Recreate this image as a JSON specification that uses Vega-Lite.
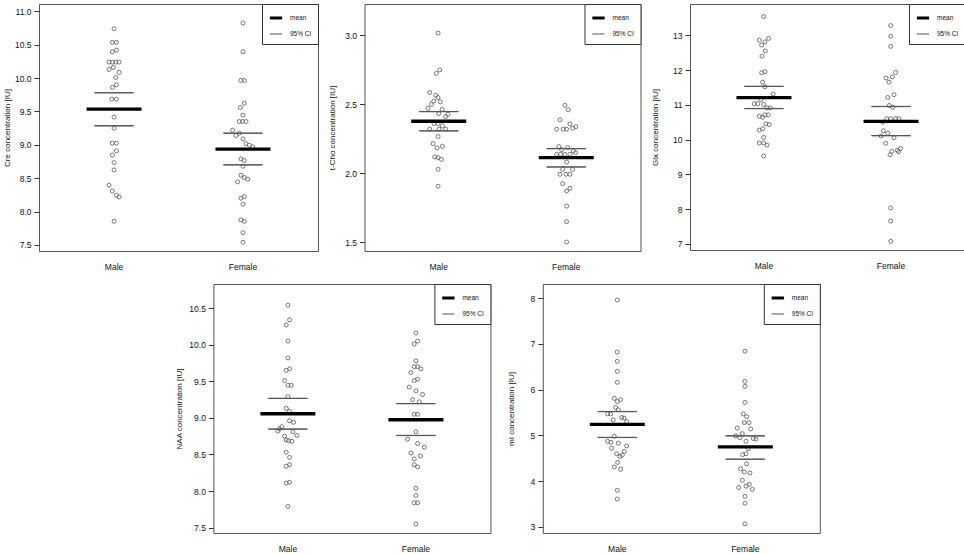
{
"$schema": "https://vega.github.io/schema/vega-lite/v6.json",
"padding": {"left": 2, "top": 3, "right": 0, "bottom": 0},
"datasets": {
"points": [
{"m":"Cre","sex":"Male","value":10.74,"jit":0},{"m":"Cre","sex":"Male","value":10.535,"jit":-0.5},{"m":"Cre","sex":"Male","value":10.535,"jit":0.7},{"m":"Cre","sex":"Male","value":10.42,"jit":0.7},{"m":"Cre","sex":"Male","value":10.395,"jit":-0.5},{"m":"Cre","sex":"Male","value":10.24,"jit":-1.5},{"m":"Cre","sex":"Male","value":10.24,"jit":-0.5},{"m":"Cre","sex":"Male","value":10.24,"jit":0.5},{"m":"Cre","sex":"Male","value":10.24,"jit":1.5},{"m":"Cre","sex":"Male","value":10.16,"jit":-0.2},{"m":"Cre","sex":"Male","value":10.13,"jit":-1.5},{"m":"Cre","sex":"Male","value":10.085,"jit":1.5},{"m":"Cre","sex":"Male","value":10.01,"jit":0.5},{"m":"Cre","sex":"Male","value":9.9,"jit":0.7},{"m":"Cre","sex":"Male","value":9.86,"jit":-0.5},{"m":"Cre","sex":"Male","value":9.685,"jit":-0.7},{"m":"Cre","sex":"Male","value":9.685,"jit":0.7},{"m":"Cre","sex":"Male","value":9.415,"jit":0},{"m":"Cre","sex":"Male","value":9.25,"jit":0},{"m":"Cre","sex":"Male","value":9.025,"jit":-0.5},{"m":"Cre","sex":"Male","value":9.025,"jit":0.7},{"m":"Cre","sex":"Male","value":8.91,"jit":0.7},{"m":"Cre","sex":"Male","value":8.845,"jit":-0.5},{"m":"Cre","sex":"Male","value":8.735,"jit":0},{"m":"Cre","sex":"Male","value":8.625,"jit":0},{"m":"Cre","sex":"Male","value":8.395,"jit":-1.5},{"m":"Cre","sex":"Male","value":8.31,"jit":-0.5},{"m":"Cre","sex":"Male","value":8.245,"jit":0.7},{"m":"Cre","sex":"Male","value":8.22,"jit":1.5},{"m":"Cre","sex":"Male","value":7.855,"jit":0},
{"m":"Cre","sex":"Female","value":10.825,"jit":0},{"m":"Cre","sex":"Female","value":10.395,"jit":0},{"m":"Cre","sex":"Female","value":9.965,"jit":-0.6},{"m":"Cre","sex":"Female","value":9.965,"jit":0.4},{"m":"Cre","sex":"Female","value":9.625,"jit":0.4},{"m":"Cre","sex":"Female","value":9.56,"jit":-0.8},{"m":"Cre","sex":"Female","value":9.445,"jit":0},{"m":"Cre","sex":"Female","value":9.35,"jit":-1.1},{"m":"Cre","sex":"Female","value":9.35,"jit":-0.1},{"m":"Cre","sex":"Female","value":9.35,"jit":0.9},{"m":"Cre","sex":"Female","value":9.22,"jit":-3.1},{"m":"Cre","sex":"Female","value":9.175,"jit":-1.1},{"m":"Cre","sex":"Female","value":9.14,"jit":-2.1},{"m":"Cre","sex":"Female","value":9.09,"jit":0},{"m":"Cre","sex":"Female","value":9.02,"jit":0.9},{"m":"Cre","sex":"Female","value":8.995,"jit":1.9},{"m":"Cre","sex":"Female","value":8.97,"jit":2.9},{"m":"Cre","sex":"Female","value":8.79,"jit":-0.6},{"m":"Cre","sex":"Female","value":8.765,"jit":0.4},{"m":"Cre","sex":"Female","value":8.68,"jit":0},{"m":"Cre","sex":"Female","value":8.545,"jit":-0.6},{"m":"Cre","sex":"Female","value":8.51,"jit":0.4},{"m":"Cre","sex":"Female","value":8.485,"jit":1.4},{"m":"Cre","sex":"Female","value":8.445,"jit":-1.6},{"m":"Cre","sex":"Female","value":8.225,"jit":0.4},{"m":"Cre","sex":"Female","value":8.2,"jit":-0.6},{"m":"Cre","sex":"Female","value":8.11,"jit":0},{"m":"Cre","sex":"Female","value":7.875,"jit":-0.6},{"m":"Cre","sex":"Female","value":7.855,"jit":0.4},{"m":"Cre","sex":"Female","value":7.685,"jit":0},{"m":"Cre","sex":"Female","value":7.54,"jit":0},
{"m":"tCho","sex":"Male","value":3.017,"jit":-0.2},{"m":"tCho","sex":"Male","value":2.75,"jit":0.3},{"m":"tCho","sex":"Male","value":2.724,"jit":-0.7},{"m":"tCho","sex":"Male","value":2.586,"jit":-2.7},{"m":"tCho","sex":"Male","value":2.566,"jit":-0.9},{"m":"tCho","sex":"Male","value":2.549,"jit":-0.2},{"m":"tCho","sex":"Male","value":2.523,"jit":-1.5},{"m":"tCho","sex":"Male","value":2.518,"jit":0.5},{"m":"tCho","sex":"Male","value":2.5,"jit":-2.2},{"m":"tCho","sex":"Male","value":2.471,"jit":-3.2},{"m":"tCho","sex":"Male","value":2.462,"jit":1.0},{"m":"tCho","sex":"Male","value":2.433,"jit":0},{"m":"tCho","sex":"Male","value":2.428,"jit":2.8},{"m":"tCho","sex":"Male","value":2.411,"jit":2.1},{"m":"tCho","sex":"Male","value":2.36,"jit":-1.4},{"m":"tCho","sex":"Male","value":2.36,"jit":-0.2},{"m":"tCho","sex":"Male","value":2.343,"jit":1.1},{"m":"tCho","sex":"Male","value":2.32,"jit":-2.7},{"m":"tCho","sex":"Male","value":2.32,"jit":0.1},{"m":"tCho","sex":"Male","value":2.32,"jit":2.1},{"m":"tCho","sex":"Male","value":2.266,"jit":-0.2},{"m":"tCho","sex":"Male","value":2.215,"jit":-1.7},{"m":"tCho","sex":"Male","value":2.195,"jit":1.1},{"m":"tCho","sex":"Male","value":2.183,"jit":-0.5},{"m":"tCho","sex":"Male","value":2.118,"jit":-1.2},{"m":"tCho","sex":"Male","value":2.113,"jit":-0.2},{"m":"tCho","sex":"Male","value":2.1,"jit":0.8},{"m":"tCho","sex":"Male","value":2.028,"jit":-0.2},{"m":"tCho","sex":"Male","value":1.905,"jit":-0.2},
{"m":"tCho","sex":"Female","value":2.493,"jit":-0.4},{"m":"tCho","sex":"Female","value":2.46,"jit":0.6},{"m":"tCho","sex":"Female","value":2.387,"jit":-1.9},{"m":"tCho","sex":"Female","value":2.358,"jit":1.1},{"m":"tCho","sex":"Female","value":2.338,"jit":2.9},{"m":"tCho","sex":"Female","value":2.326,"jit":1.9},{"m":"tCho","sex":"Female","value":2.319,"jit":-2.9},{"m":"tCho","sex":"Female","value":2.319,"jit":-0.9},{"m":"tCho","sex":"Female","value":2.319,"jit":0.1},{"m":"tCho","sex":"Female","value":2.193,"jit":-2.2},{"m":"tCho","sex":"Female","value":2.186,"jit":0.4},{"m":"tCho","sex":"Female","value":2.171,"jit":-1.4},{"m":"tCho","sex":"Female","value":2.161,"jit":2.1},{"m":"tCho","sex":"Female","value":2.149,"jit":2.8},{"m":"tCho","sex":"Female","value":2.137,"jit":-2.9},{"m":"tCho","sex":"Female","value":2.137,"jit":-1.7},{"m":"tCho","sex":"Female","value":2.137,"jit":-0.4},{"m":"tCho","sex":"Female","value":2.137,"jit":1.1},{"m":"tCho","sex":"Female","value":2.081,"jit":0.1},{"m":"tCho","sex":"Female","value":2.028,"jit":-1.1},{"m":"tCho","sex":"Female","value":2.028,"jit":1.9},{"m":"tCho","sex":"Female","value":1.992,"jit":-1.9},{"m":"tCho","sex":"Female","value":1.992,"jit":-0.1},{"m":"tCho","sex":"Female","value":1.992,"jit":1.1},{"m":"tCho","sex":"Female","value":1.924,"jit":-1.1},{"m":"tCho","sex":"Female","value":1.89,"jit":1.1},{"m":"tCho","sex":"Female","value":1.871,"jit":0.1},{"m":"tCho","sex":"Female","value":1.761,"jit":0.1},{"m":"tCho","sex":"Female","value":1.648,"jit":0.1},{"m":"tCho","sex":"Female","value":1.5,"jit":0.1},
{"m":"Glx","sex":"Male","value":13.54,"jit":-0.1},{"m":"Glx","sex":"Male","value":12.91,"jit":1.4},{"m":"Glx","sex":"Male","value":12.86,"jit":-1.4},{"m":"Glx","sex":"Male","value":12.81,"jit":0.3},{"m":"Glx","sex":"Male","value":12.72,"jit":-0.7},{"m":"Glx","sex":"Male","value":12.55,"jit":0.4},{"m":"Glx","sex":"Male","value":12.4,"jit":-0.6},{"m":"Glx","sex":"Male","value":11.95,"jit":0.3},{"m":"Glx","sex":"Male","value":11.92,"jit":-0.7},{"m":"Glx","sex":"Male","value":11.65,"jit":-0.4},{"m":"Glx","sex":"Male","value":11.52,"jit":0.3},{"m":"Glx","sex":"Male","value":11.31,"jit":2.8},{"m":"Glx","sex":"Male","value":11.15,"jit":-0.9},{"m":"Glx","sex":"Male","value":11.03,"jit":-2.9},{"m":"Glx","sex":"Male","value":11.03,"jit":-1.9},{"m":"Glx","sex":"Male","value":11.01,"jit":-0.1},{"m":"Glx","sex":"Male","value":10.91,"jit":0.9},{"m":"Glx","sex":"Male","value":10.91,"jit":1.9},{"m":"Glx","sex":"Male","value":10.71,"jit":0.3},{"m":"Glx","sex":"Male","value":10.67,"jit":-1.4},{"m":"Glx","sex":"Male","value":10.64,"jit":-0.4},{"m":"Glx","sex":"Male","value":10.71,"jit":1.3},{"m":"Glx","sex":"Male","value":10.45,"jit":0.6},{"m":"Glx","sex":"Male","value":10.43,"jit":1.6},{"m":"Glx","sex":"Male","value":10.27,"jit":-1.4},{"m":"Glx","sex":"Male","value":10.31,"jit":-0.4},{"m":"Glx","sex":"Male","value":10.06,"jit":-0.1},{"m":"Glx","sex":"Male","value":9.9,"jit":-1.4},{"m":"Glx","sex":"Male","value":9.9,"jit":-0.1},{"m":"Glx","sex":"Male","value":9.84,"jit":0.9},{"m":"Glx","sex":"Male","value":9.53,"jit":-0.1},
{"m":"Glx","sex":"Female","value":13.28,"jit":-0.1},{"m":"Glx","sex":"Female","value":12.97,"jit":-0.1},{"m":"Glx","sex":"Female","value":12.68,"jit":-0.1},{"m":"Glx","sex":"Female","value":11.93,"jit":1.4},{"m":"Glx","sex":"Female","value":11.8,"jit":0.4},{"m":"Glx","sex":"Female","value":11.77,"jit":-1.5},{"m":"Glx","sex":"Female","value":11.65,"jit":-0.6},{"m":"Glx","sex":"Female","value":11.29,"jit":0.9},{"m":"Glx","sex":"Female","value":11.21,"jit":-1.0},{"m":"Glx","sex":"Female","value":10.98,"jit":-0.5},{"m":"Glx","sex":"Female","value":10.93,"jit":0.5},{"m":"Glx","sex":"Female","value":10.6,"jit":-1.3},{"m":"Glx","sex":"Female","value":10.6,"jit":-0.1},{"m":"Glx","sex":"Female","value":10.6,"jit":1.4},{"m":"Glx","sex":"Female","value":10.6,"jit":2.4},{"m":"Glx","sex":"Female","value":10.5,"jit":-2.5},{"m":"Glx","sex":"Female","value":10.25,"jit":-2.3},{"m":"Glx","sex":"Female","value":10.18,"jit":-1.0},{"m":"Glx","sex":"Female","value":10.1,"jit":-3.0},{"m":"Glx","sex":"Female","value":10.05,"jit":0.9},{"m":"Glx","sex":"Female","value":9.89,"jit":-1.6},{"m":"Glx","sex":"Female","value":9.74,"jit":2.9},{"m":"Glx","sex":"Female","value":9.69,"jit":1.9},{"m":"Glx","sex":"Female","value":9.66,"jit":0.2},{"m":"Glx","sex":"Female","value":9.65,"jit":2.3},{"m":"Glx","sex":"Female","value":9.56,"jit":-0.3},{"m":"Glx","sex":"Female","value":8.03,"jit":-0.1},{"m":"Glx","sex":"Female","value":7.65,"jit":-0.1},{"m":"Glx","sex":"Female","value":7.07,"jit":-0.1},
{"m":"NAA","sex":"Male","value":10.54,"jit":0},{"m":"NAA","sex":"Male","value":10.34,"jit":0.5},{"m":"NAA","sex":"Male","value":10.27,"jit":-0.5},{"m":"NAA","sex":"Male","value":10.05,"jit":0},{"m":"NAA","sex":"Male","value":9.82,"jit":0},{"m":"NAA","sex":"Male","value":9.67,"jit":0.5},{"m":"NAA","sex":"Male","value":9.65,"jit":-0.5},{"m":"NAA","sex":"Male","value":9.51,"jit":-1.0},{"m":"NAA","sex":"Male","value":9.445,"jit":0},{"m":"NAA","sex":"Male","value":9.445,"jit":1.0},{"m":"NAA","sex":"Male","value":9.29,"jit":0},{"m":"NAA","sex":"Male","value":9.13,"jit":-0.5},{"m":"NAA","sex":"Male","value":9.09,"jit":0.5},{"m":"NAA","sex":"Male","value":8.96,"jit":0.5},{"m":"NAA","sex":"Male","value":8.94,"jit":1.7},{"m":"NAA","sex":"Male","value":8.88,"jit":-1.8},{"m":"NAA","sex":"Male","value":8.85,"jit":-2.5},{"m":"NAA","sex":"Male","value":8.82,"jit":-3.0},{"m":"NAA","sex":"Male","value":8.81,"jit":1.5},{"m":"NAA","sex":"Male","value":8.76,"jit":2.7},{"m":"NAA","sex":"Male","value":8.75,"jit":-1.0},{"m":"NAA","sex":"Male","value":8.7,"jit":-0.5},{"m":"NAA","sex":"Male","value":8.69,"jit":0.2},{"m":"NAA","sex":"Male","value":8.68,"jit":1.2},{"m":"NAA","sex":"Male","value":8.53,"jit":-0.5},{"m":"NAA","sex":"Male","value":8.46,"jit":0.5},{"m":"NAA","sex":"Male","value":8.36,"jit":0.5},{"m":"NAA","sex":"Male","value":8.34,"jit":-0.5},{"m":"NAA","sex":"Male","value":8.12,"jit":0.5},{"m":"NAA","sex":"Male","value":8.11,"jit":-0.5},{"m":"NAA","sex":"Male","value":7.79,"jit":0},
{"m":"NAA","sex":"Female","value":10.16,"jit":0},{"m":"NAA","sex":"Female","value":10.05,"jit":0.5},{"m":"NAA","sex":"Female","value":10.01,"jit":-0.5},{"m":"NAA","sex":"Female","value":9.78,"jit":0},{"m":"NAA","sex":"Female","value":9.7,"jit":-0.5},{"m":"NAA","sex":"Female","value":9.7,"jit":0.5},{"m":"NAA","sex":"Female","value":9.67,"jit":1.5},{"m":"NAA","sex":"Female","value":9.62,"jit":-1.5},{"m":"NAA","sex":"Female","value":9.53,"jit":0.5},{"m":"NAA","sex":"Female","value":9.51,"jit":-0.5},{"m":"NAA","sex":"Female","value":9.42,"jit":-2.0},{"m":"NAA","sex":"Female","value":9.37,"jit":0},{"m":"NAA","sex":"Female","value":9.32,"jit":2.0},{"m":"NAA","sex":"Female","value":9.25,"jit":-1.0},{"m":"NAA","sex":"Female","value":9.22,"jit":1.0},{"m":"NAA","sex":"Female","value":9.05,"jit":-0.5},{"m":"NAA","sex":"Female","value":9.05,"jit":0.5},{"m":"NAA","sex":"Female","value":8.81,"jit":0},{"m":"NAA","sex":"Female","value":8.71,"jit":-2.5},{"m":"NAA","sex":"Female","value":8.65,"jit":0.5},{"m":"NAA","sex":"Female","value":8.6,"jit":2.5},{"m":"NAA","sex":"Female","value":8.52,"jit":-1.5},{"m":"NAA","sex":"Female","value":8.48,"jit":1.4},{"m":"NAA","sex":"Female","value":8.44,"jit":-0.5},{"m":"NAA","sex":"Female","value":8.36,"jit":-0.5},{"m":"NAA","sex":"Female","value":8.33,"jit":0.5},{"m":"NAA","sex":"Female","value":8.04,"jit":0},{"m":"NAA","sex":"Female","value":7.94,"jit":0},{"m":"NAA","sex":"Female","value":7.84,"jit":-0.5},{"m":"NAA","sex":"Female","value":7.84,"jit":0.5},{"m":"NAA","sex":"Female","value":7.55,"jit":0},
{"m":"mI","sex":"Male","value":7.96,"jit":0},{"m":"mI","sex":"Male","value":6.82,"jit":0},{"m":"mI","sex":"Male","value":6.62,"jit":0},{"m":"mI","sex":"Male","value":6.4,"jit":0},{"m":"mI","sex":"Male","value":6.16,"jit":0},{"m":"mI","sex":"Male","value":5.81,"jit":-0.9},{"m":"mI","sex":"Male","value":5.78,"jit":1.0},{"m":"mI","sex":"Male","value":5.74,"jit":0},{"m":"mI","sex":"Male","value":5.61,"jit":-0.5},{"m":"mI","sex":"Male","value":5.56,"jit":0.3},{"m":"mI","sex":"Male","value":5.47,"jit":-2.9},{"m":"mI","sex":"Male","value":5.47,"jit":-2.0},{"m":"mI","sex":"Male","value":5.39,"jit":1.3},{"m":"mI","sex":"Male","value":5.38,"jit":2.0},{"m":"mI","sex":"Male","value":5.34,"jit":-1.2},{"m":"mI","sex":"Male","value":5.3,"jit":2.8},{"m":"mI","sex":"Male","value":4.98,"jit":-0.9},{"m":"mI","sex":"Male","value":4.87,"jit":-2.9},{"m":"mI","sex":"Male","value":4.85,"jit":-1.9},{"m":"mI","sex":"Male","value":4.83,"jit":0.3},{"m":"mI","sex":"Male","value":4.77,"jit":2.8},{"m":"mI","sex":"Male","value":4.72,"jit":-1.7},{"m":"mI","sex":"Male","value":4.65,"jit":2.1},{"m":"mI","sex":"Male","value":4.6,"jit":-0.2},{"m":"mI","sex":"Male","value":4.57,"jit":1.5},{"m":"mI","sex":"Male","value":4.54,"jit":0.8},{"m":"mI","sex":"Male","value":4.41,"jit":0.1},{"m":"mI","sex":"Male","value":4.31,"jit":-0.9},{"m":"mI","sex":"Male","value":4.26,"jit":1.0},{"m":"mI","sex":"Male","value":3.8,"jit":0},{"m":"mI","sex":"Male","value":3.61,"jit":0},
{"m":"mI","sex":"Female","value":6.84,"jit":-0.1},{"m":"mI","sex":"Female","value":6.18,"jit":-0.1},{"m":"mI","sex":"Female","value":6.07,"jit":-0.1},{"m":"mI","sex":"Female","value":5.72,"jit":-0.1},{"m":"mI","sex":"Female","value":5.47,"jit":-0.6},{"m":"mI","sex":"Female","value":5.41,"jit":0.4},{"m":"mI","sex":"Female","value":5.28,"jit":-0.3},{"m":"mI","sex":"Female","value":5.28,"jit":1.1},{"m":"mI","sex":"Female","value":5.16,"jit":-2.4},{"m":"mI","sex":"Female","value":5.14,"jit":1.6},{"m":"mI","sex":"Female","value":5.04,"jit":-0.9},{"m":"mI","sex":"Female","value":4.99,"jit":-2.9},{"m":"mI","sex":"Female","value":4.95,"jit":-1.6},{"m":"mI","sex":"Female","value":4.93,"jit":2.4},{"m":"mI","sex":"Female","value":4.92,"jit":3.2},{"m":"mI","sex":"Female","value":4.87,"jit":0.2},{"m":"mI","sex":"Female","value":4.71,"jit":0.9},{"m":"mI","sex":"Female","value":4.6,"jit":0.2},{"m":"mI","sex":"Female","value":4.58,"jit":-0.8},{"m":"mI","sex":"Female","value":4.38,"jit":0.4},{"m":"mI","sex":"Female","value":4.27,"jit":-1.4},{"m":"mI","sex":"Female","value":4.2,"jit":-0.3},{"m":"mI","sex":"Female","value":4.18,"jit":1.4},{"m":"mI","sex":"Female","value":4.02,"jit":-0.9},{"m":"mI","sex":"Female","value":3.93,"jit":1.2},{"m":"mI","sex":"Female","value":3.89,"jit":0.2},{"m":"mI","sex":"Female","value":3.86,"jit":-2.0},{"m":"mI","sex":"Female","value":3.82,"jit":2.1},{"m":"mI","sex":"Female","value":3.67,"jit":-0.1},{"m":"mI","sex":"Female","value":3.52,"jit":-0.1},{"m":"mI","sex":"Female","value":3.07,"jit":-0.1}
],
"stats": [
{"m":"Cre","sex":"Male","kind":"mean","value":9.535},{"m":"Cre","sex":"Male","kind":"95% CI","value":9.78},{"m":"Cre","sex":"Male","kind":"95% CI","value":9.285},
{"m":"Cre","sex":"Female","kind":"mean","value":8.935},{"m":"Cre","sex":"Female","kind":"95% CI","value":9.175},{"m":"Cre","sex":"Female","kind":"95% CI","value":8.7},
{"m":"tCho","sex":"Male","kind":"mean","value":2.377},{"m":"tCho","sex":"Male","kind":"95% CI","value":2.447},{"m":"tCho","sex":"Male","kind":"95% CI","value":2.307},
{"m":"tCho","sex":"Female","kind":"mean","value":2.113},{"m":"tCho","sex":"Female","kind":"95% CI","value":2.178},{"m":"tCho","sex":"Female","kind":"95% CI","value":2.045},
{"m":"Glx","sex":"Male","kind":"mean","value":11.205},{"m":"Glx","sex":"Male","kind":"95% CI","value":11.53},{"m":"Glx","sex":"Male","kind":"95% CI","value":10.89},
{"m":"Glx","sex":"Female","kind":"mean","value":10.52},{"m":"Glx","sex":"Female","kind":"95% CI","value":10.95},{"m":"Glx","sex":"Female","kind":"95% CI","value":10.11},
{"m":"NAA","sex":"Male","kind":"mean","value":9.057},{"m":"NAA","sex":"Male","kind":"95% CI","value":9.267},{"m":"NAA","sex":"Male","kind":"95% CI","value":8.847},
{"m":"NAA","sex":"Female","kind":"mean","value":8.975},{"m":"NAA","sex":"Female","kind":"95% CI","value":9.195},{"m":"NAA","sex":"Female","kind":"95% CI","value":8.76},
{"m":"mI","sex":"Male","kind":"mean","value":5.24},{"m":"mI","sex":"Male","kind":"95% CI","value":5.52},{"m":"mI","sex":"Male","kind":"95% CI","value":4.955},
{"m":"mI","sex":"Female","kind":"mean","value":4.75},{"m":"mI","sex":"Female","kind":"95% CI","value":4.99},{"m":"mI","sex":"Female","kind":"95% CI","value":4.48}
]
},
"vconcat": [
{"hconcat": [
{"width": 279, "height": 247, "layer": [
{"data":{"name":"points"},"transform":[{"filter":"datum.m==='Cre'"}],"mark":{"type":"point","shape":"circle","filled":false,"size":16,"stroke":"#555","strokeWidth":0.8,"opacity":1},
"encoding":{"x":{"field":"sex","type":"nominal","sort":["Male","Female"],"scale":{"paddingInner":0,"paddingOuter":0.082},"axis":{"title":null,"ticks":false,"domain":false,"labelAngle":0,"labelPadding":11}},
"xOffset":{"field":"jit","type":"quantitative","scale":{"domain":[-19.2,19.2],"nice":false,"zero":false}},
"y":{"field":"value","type":"quantitative","scale":{"domain":[7.41,11.11],"nice":false,"zero":false},"axis":{"title":"Cre concentration [IU]","values":[7.5,8,8.5,9,9.5,10,10.5,11],"tickCount":12,"format":".1f","titlePadding":8}}}},
{"data":{"name":"stats"},"transform":[{"filter":"datum.m==='Cre' && datum.kind==='mean'"}],"mark":{"type":"tick","filled":false,"thickness":0.3,"size":52,"opacity":1},
"encoding":{"x":{"field":"sex","type":"nominal","sort":["Male","Female"]},"y":{"field":"value","type":"quantitative"},
"stroke":{"field":"kind","type":"nominal","scale":{"domain":["mean","95% CI"],"range":["#000000","#555555"]},"legend":{"title":null}},
"strokeWidth":{"field":"kind","type":"nominal","scale":{"domain":["mean","95% CI"],"range":[3,1]},"legend":{"title":null}}}},
{"data":{"name":"stats"},"transform":[{"filter":"datum.m==='Cre' && datum.kind==='95% CI'"}],"mark":{"type":"tick","filled":false,"thickness":0.3,"size":39,"opacity":1},
"encoding":{"x":{"field":"sex","type":"nominal","sort":["Male","Female"]},"y":{"field":"value","type":"quantitative"},
"stroke":{"field":"kind","type":"nominal","scale":{"domain":["mean","95% CI"],"range":["#000000","#555555"]},"legend":{"title":null}},
"strokeWidth":{"field":"kind","type":"nominal","scale":{"domain":["mean","95% CI"],"range":[3,1]},"legend":{"title":null}}}}
]},
{"width": 276, "height": 247, "layer": [
{"data":{"name":"points"},"transform":[{"filter":"datum.m==='tCho'"}],"mark":{"type":"point","shape":"circle","filled":false,"size":16,"stroke":"#555","strokeWidth":0.8,"opacity":1},
"encoding":{"x":{"field":"sex","type":"nominal","sort":["Male","Female"],"scale":{"paddingInner":0,"paddingOuter":0.082},"axis":{"title":null,"ticks":false,"domain":false,"labelAngle":0,"labelPadding":11}},
"xOffset":{"field":"jit","type":"quantitative","scale":{"domain":[-19.2,19.2],"nice":false,"zero":false}},
"y":{"field":"value","type":"quantitative","scale":{"domain":[1.435,3.228],"nice":false,"zero":false},"axis":{"title":"t-Cho concentration [IU]","values":[1.5,2,2.5,3],"tickCount":12,"format":".1f","titlePadding":7.7}}}},
{"data":{"name":"stats"},"transform":[{"filter":"datum.m==='tCho' && datum.kind==='mean'"}],"mark":{"type":"tick","filled":false,"thickness":0.3,"size":52,"opacity":1},
"encoding":{"x":{"field":"sex","type":"nominal","sort":["Male","Female"]},"y":{"field":"value","type":"quantitative"},
"stroke":{"field":"kind","type":"nominal","scale":{"domain":["mean","95% CI"],"range":["#000000","#555555"]},"legend":{"title":null}},
"strokeWidth":{"field":"kind","type":"nominal","scale":{"domain":["mean","95% CI"],"range":[3,1]},"legend":{"title":null}}}},
{"data":{"name":"stats"},"transform":[{"filter":"datum.m==='tCho' && datum.kind==='95% CI'"}],"mark":{"type":"tick","filled":false,"thickness":0.3,"size":39,"opacity":1},
"encoding":{"x":{"field":"sex","type":"nominal","sort":["Male","Female"]},"y":{"field":"value","type":"quantitative"},
"stroke":{"field":"kind","type":"nominal","scale":{"domain":["mean","95% CI"],"range":["#000000","#555555"]},"legend":{"title":null}},
"strokeWidth":{"field":"kind","type":"nominal","scale":{"domain":["mean","95% CI"],"range":[3,1]},"legend":{"title":null}}}}
]},
{"width": 275, "height": 246, "layer": [
{"data":{"name":"points"},"transform":[{"filter":"datum.m==='Glx'"}],"mark":{"type":"point","shape":"circle","filled":false,"size":16,"stroke":"#555","strokeWidth":0.8,"opacity":1},
"encoding":{"x":{"field":"sex","type":"nominal","sort":["Male","Female"],"scale":{"paddingInner":0,"paddingOuter":0.082},"axis":{"title":null,"ticks":false,"domain":false,"labelAngle":0,"labelPadding":11}},
"xOffset":{"field":"jit","type":"quantitative","scale":{"domain":[-19.2,19.2],"nice":false,"zero":false}},
"y":{"field":"value","type":"quantitative","scale":{"domain":[6.82,13.9],"nice":false,"zero":false},"axis":{"title":"Glx concentration [IU]","values":[7,8,9,10,11,12,13],"tickCount":12,"format":"d","titlePadding":11}}}},
{"data":{"name":"stats"},"transform":[{"filter":"datum.m==='Glx' && datum.kind==='mean'"}],"mark":{"type":"tick","filled":false,"thickness":0.3,"size":52,"opacity":1},
"encoding":{"x":{"field":"sex","type":"nominal","sort":["Male","Female"]},"y":{"field":"value","type":"quantitative"},
"stroke":{"field":"kind","type":"nominal","scale":{"domain":["mean","95% CI"],"range":["#000000","#555555"]},"legend":{"title":null}},
"strokeWidth":{"field":"kind","type":"nominal","scale":{"domain":["mean","95% CI"],"range":[3,1]},"legend":{"title":null}}}},
{"data":{"name":"stats"},"transform":[{"filter":"datum.m==='Glx' && datum.kind==='95% CI'"}],"mark":{"type":"tick","filled":false,"thickness":0.3,"size":39,"opacity":1},
"encoding":{"x":{"field":"sex","type":"nominal","sort":["Male","Female"]},"y":{"field":"value","type":"quantitative"},
"stroke":{"field":"kind","type":"nominal","scale":{"domain":["mean","95% CI"],"range":["#000000","#555555"]},"legend":{"title":null}},
"strokeWidth":{"field":"kind","type":"nominal","scale":{"domain":["mean","95% CI"],"range":[3,1]},"legend":{"title":null}}}}
]}
], "spacing": 8.5, "resolve": {"scale": {"x":"independent","y":"independent","xOffset":"independent","stroke":"independent","strokeWidth":"independent"}}},
{"hconcat": [
{"width": 120, "height": 10, "view": {"stroke": null}, "data": {"values": []}, "mark": {"type":"point","opacity":0}, "encoding": {}},
{"width": 277, "height": 249, "layer": [
{"data":{"name":"points"},"transform":[{"filter":"datum.m==='NAA'"}],"mark":{"type":"point","shape":"circle","filled":false,"size":16,"stroke":"#555","strokeWidth":0.8,"opacity":1},
"encoding":{"x":{"field":"sex","type":"nominal","sort":["Male","Female"],"scale":{"paddingInner":0,"paddingOuter":0.082},"axis":{"title":null,"ticks":false,"domain":false,"labelAngle":0,"labelPadding":11}},
"xOffset":{"field":"jit","type":"quantitative","scale":{"domain":[-19.2,19.2],"nice":false,"zero":false}},
"y":{"field":"value","type":"quantitative","scale":{"domain":[7.427,10.83],"nice":false,"zero":false},"axis":{"title":"NAA concentration [IU]","values":[7.5,8,8.5,9,9.5,10,10.5],"tickCount":12,"format":".1f","titlePadding":10.3}}}},
{"data":{"name":"stats"},"transform":[{"filter":"datum.m==='NAA' && datum.kind==='mean'"}],"mark":{"type":"tick","filled":false,"thickness":0.3,"size":52,"opacity":1},
"encoding":{"x":{"field":"sex","type":"nominal","sort":["Male","Female"]},"y":{"field":"value","type":"quantitative"},
"stroke":{"field":"kind","type":"nominal","scale":{"domain":["mean","95% CI"],"range":["#000000","#555555"]},"legend":{"title":null}},
"strokeWidth":{"field":"kind","type":"nominal","scale":{"domain":["mean","95% CI"],"range":[3,1]},"legend":{"title":null}}}},
{"data":{"name":"stats"},"transform":[{"filter":"datum.m==='NAA' && datum.kind==='95% CI'"}],"mark":{"type":"tick","filled":false,"thickness":0.3,"size":39,"opacity":1},
"encoding":{"x":{"field":"sex","type":"nominal","sort":["Male","Female"]},"y":{"field":"value","type":"quantitative"},
"stroke":{"field":"kind","type":"nominal","scale":{"domain":["mean","95% CI"],"range":["#000000","#555555"]},"legend":{"title":null}},
"strokeWidth":{"field":"kind","type":"nominal","scale":{"domain":["mean","95% CI"],"range":[3,1]},"legend":{"title":null}}}}
]},
{"width": 277, "height": 249, "layer": [
{"data":{"name":"points"},"transform":[{"filter":"datum.m==='mI'"}],"mark":{"type":"point","shape":"circle","filled":false,"size":16,"stroke":"#555","strokeWidth":0.8,"opacity":1},
"encoding":{"x":{"field":"sex","type":"nominal","sort":["Male","Female"],"scale":{"paddingInner":0,"paddingOuter":0.082},"axis":{"title":null,"ticks":false,"domain":false,"labelAngle":0,"labelPadding":11}},
"xOffset":{"field":"jit","type":"quantitative","scale":{"domain":[-19.2,19.2],"nice":false,"zero":false}},
"y":{"field":"value","type":"quantitative","scale":{"domain":[2.868,8.307],"nice":false,"zero":false},"axis":{"title":"mI concentration [IU]","values":[3,4,5,6,7,8],"tickCount":12,"format":"d","titlePadding":7.3}}}},
{"data":{"name":"stats"},"transform":[{"filter":"datum.m==='mI' && datum.kind==='mean'"}],"mark":{"type":"tick","filled":false,"thickness":0.3,"size":52,"opacity":1},
"encoding":{"x":{"field":"sex","type":"nominal","sort":["Male","Female"]},"y":{"field":"value","type":"quantitative"},
"stroke":{"field":"kind","type":"nominal","scale":{"domain":["mean","95% CI"],"range":["#000000","#555555"]},"legend":{"title":null}},
"strokeWidth":{"field":"kind","type":"nominal","scale":{"domain":["mean","95% CI"],"range":[3,1]},"legend":{"title":null}}}},
{"data":{"name":"stats"},"transform":[{"filter":"datum.m==='mI' && datum.kind==='95% CI'"}],"mark":{"type":"tick","filled":false,"thickness":0.3,"size":39,"opacity":1},
"encoding":{"x":{"field":"sex","type":"nominal","sort":["Male","Female"]},"y":{"field":"value","type":"quantitative"},
"stroke":{"field":"kind","type":"nominal","scale":{"domain":["mean","95% CI"],"range":["#000000","#555555"]},"legend":{"title":null}},
"strokeWidth":{"field":"kind","type":"nominal","scale":{"domain":["mean","95% CI"],"range":[3,1]},"legend":{"title":null}}}}
]}
], "spacing": 15.4, "resolve": {"scale": {"x":"independent","y":"independent","xOffset":"independent","stroke":"independent","strokeWidth":"independent"}}}
],
"spacing": 12,
"resolve": {"scale": {"x":"independent","y":"independent","xOffset":"independent","stroke":"independent","strokeWidth":"independent"}},
"config": {
"font": "Liberation Sans",
"view": {"stroke": "#555555", "strokeWidth": 1},
"axis": {"grid": false, "labelFontSize": 8.5, "labelColor": "#111111", "titleFontSize": 8, "titleFontWeight": "normal", "titleColor": "#111111"},
"axisY": {"domain": false, "tickSize": 5, "tickColor": "#333333", "labelPadding": 3, "minExtent": 20, "maxExtent": 20, "labelOverlap": false},
"legend": {"orient": "top-right", "offset": 0, "symbolType": "stroke", "symbolSize": 150, "labelFontSize": 6.5, "padding": 6, "strokeColor": "#333333", "fillColor": "white", "rowPadding": 3, "labelOffset": 6, "labelColor": "#111111"}
}
}
